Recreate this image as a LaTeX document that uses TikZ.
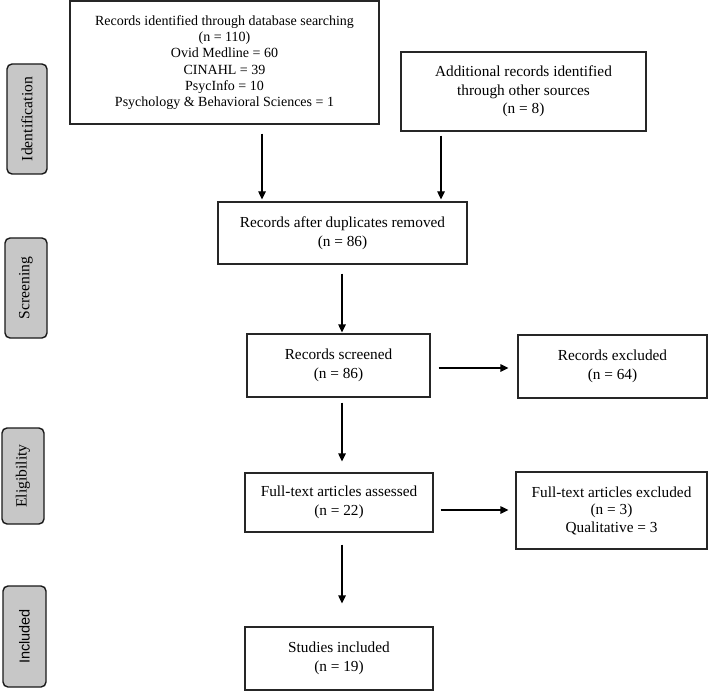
\documentclass[tikz,border=0pt]{standalone}
\usepackage{fontspec}
\setmainfont{Liberation Serif}
\newfontfamily\labsans{Liberation Sans}
\usetikzlibrary{arrows.meta,calc}
\tikzset{
  box/.style={draw=black!85, line width=1.2pt, align=center, inner sep=0pt, font=\fontsize{15.3}{19.5}\selectfont},
  side/.style={draw=black!90, fill=black!22, line width=1.4pt, rounded corners=5pt, inner sep=0pt},
  sidetext/.style={rotate=90, font=\fontsize{15.6}{18}\selectfont},
  arr/.style={line width=1.2pt, -{Triangle[length=8pt,width=7.5pt]}}
}
\begin{document}
\begin{tikzpicture}[x=1pt,y=-1pt]
\useasboundingbox (0,0) rectangle (708,692);
% side labels
\node[side, minimum width=40pt, minimum height=110pt] (sid) at (27,119) {};
\node[sidetext] (tid) at (sid.center) {Identification};
\node[side, minimum width=42pt, minimum height=100pt] (ssc) at (26,288) {};
\node[sidetext] (tsc) at (ssc.center) {Screening};
\node[side, minimum width=42pt, minimum height=96pt] (sel) at (23,476) {};
\node[sidetext] (tel) at (sel.center) {Eligibility};
\node[side, minimum width=43pt, minimum height=101pt] (sin) at (24.5,636.5) {};
\node[sidetext, font=\labsans\fontsize{14.5}{17}\selectfont] (tin) at (sin.center) {Included};
% boxes
\node[box, minimum width=309pt, minimum height=123pt, font=\fontsize{14}{16.2}\selectfont] (db) at (224.5,62.5)
  {Records identified through database searching\\(n = 110)\\Ovid Medline = 60\\CINAHL = 39\\PsycInfo = 10\\Psychology \& Behavioral Sciences = 1};
\node[box, minimum width=245pt, minimum height=79pt, font=\fontsize{15.3}{18.5}\selectfont] (add) at (523.5,91.5)
  {Additional records identified\\through other sources\\(n = 8)};
\node[box, minimum width=249pt, minimum height=62pt] (dup) at (342.5,233)
  {Records after duplicates removed\\(n = 86)};
\node[box, minimum width=183pt, minimum height=63pt] (scr) at (338.5,365.5)
  {Records screened\\(n = 86)};
\node[box, minimum width=189pt, minimum height=63pt] (exc) at (612.5,366.5)
  {Records excluded\\(n = 64)};
\node[box, minimum width=188pt, minimum height=59pt] (ft) at (339,502.5)
  {Full-text articles assessed\\(n = 22)};
\node[box, minimum width=191pt, minimum height=77pt, font=\fontsize{15.3}{17.5}\selectfont] (fte) at (611.5,510.5)
  {Full-text articles excluded\\(n = 3)\\Qualitative = 3};
\node[box, minimum width=188pt, minimum height=63pt] (inc) at (339,658.5)
  {Studies included\\(n = 19)};
% connectors
\coordinate (a1) at ($(db.south)+(37.5,0)$);
\coordinate (a2) at ($(add.south)+(-82.5,0)$);
\draw[arr, shorten <=9pt, shorten >=2pt] (a1) -- (a1 |- dup.north);
\draw[arr, shorten <=4pt, shorten >=2pt] (a2) -- (a2 |- dup.north);
\coordinate (a3) at ($(dup.south)+(-0.5,0)$);
\draw[arr, shorten <=9pt, shorten >=1pt] (a3) -- (a3 |- scr.north);
\coordinate (a4) at ($(scr.east)+(0,2.5)$);
\draw[arr, shorten <=8pt, shorten >=9pt] (a4) -- (a4 -| exc.west);
\coordinate (a5) at ($(scr.south)+(3.5,0)$);
\draw[arr, shorten <=5pt, shorten >=11pt] (a5) -- (a5 |- ft.north);
\coordinate (a6) at ($(ft.east)+(0,7.5)$);
\draw[arr, shorten <=7pt, shorten >=7pt] (a6) -- (a6 -| fte.west);
\coordinate (a7) at ($(ft.south)+(3,0)$);
\draw[arr, shorten <=12pt, shorten >=23pt] (a7) -- (a7 |- inc.north);
\end{tikzpicture}
\end{document}
